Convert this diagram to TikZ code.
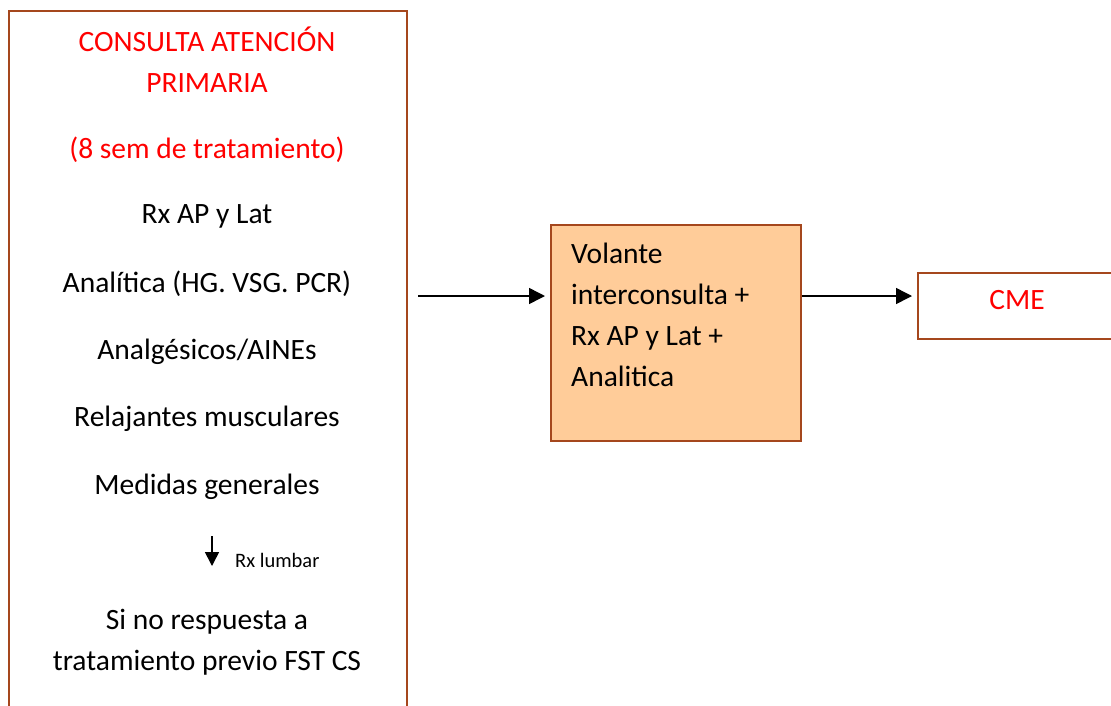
\documentclass[tikz,border=0pt]{standalone}
\usepackage{fontspec}
\setmainfont{Carlito}
\usetikzlibrary{arrows.meta}
\definecolor{boxline}{HTML}{A5471D}
\definecolor{boxfill}{HTML}{FFCC99}
\definecolor{title}{HTML}{FF0000}
\begin{document}
\begin{tikzpicture}[x=1pt,y=-1pt,
  frame/.style={draw=boxline, line width=2pt, rectangle, inner sep=0pt, anchor=north west},
  txt/.style={inner sep=0pt, font=\fontsize{29.5}{41}\selectfont},
  small/.style={inner sep=0pt, font=\fontsize{20.5}{22}\selectfont, anchor=west},
  conn/.style={line width=1.5pt, -{Triangle[length=16pt,width=16pt]}}]
\useasboundingbox (0,0) rectangle (1111,705);
\clip (0,0) rectangle (1111,705);

% primary-care consultation column
\node[frame, minimum width=398pt, minimum height=740pt] (ap) at (8,10) {};
\node[txt, text=title, align=center] (t1) at (207,60) {CONSULTA ATENCIÓN\\PRIMARIA};
\node[txt, text=title] (t2) at (207,150) {(8 sem de tratamiento)};
\node[txt] (l1) at (207,216) {Rx AP y Lat};
\node[txt] (l2) at (207,284) {Analítica (HG. VSG. PCR)};
\node[txt] (l3) at (207,352) {Analgésicos/AINEs};
\node[txt] (l4) at (207,419) {Relajantes musculares};
\node[txt] (l5) at (207,487) {Medidas generales};
\coordinate (d1) at (212,536);
\coordinate (d2) at (212,566);
\draw[line width=1.6pt, -{Triangle[length=14pt,width=14pt]}] (d1) -- (d2);
\node[small] (rxl) at (235,560) {Rx lumbar};
\node[txt, align=center] (l6) at (207,642) {Si no respuesta a\\tratamiento previo FST CS};

% referral box
\node[frame, fill=boxfill, minimum width=250pt, minimum height=216pt] (vol) at (550,224) {};
\node[txt, anchor=west, align=left] (volt) at (571,315) {Volante\\interconsulta +\\Rx AP y Lat +\\Analitica};

% specialist box
\node[frame, minimum width=230pt, minimum height=66pt] (cme) at (917,272) {};
\node[txt, text=title] (cmet) at (1017,300) {CME};

% connectors
\coordinate (a1) at (418,296);
\draw[conn, shorten >=5pt] (a1) -- (vol.west |- a1);
\draw[conn, shorten >=5pt] (vol.east |- a1) -- (cme.west |- a1);
\end{tikzpicture}
\end{document}
